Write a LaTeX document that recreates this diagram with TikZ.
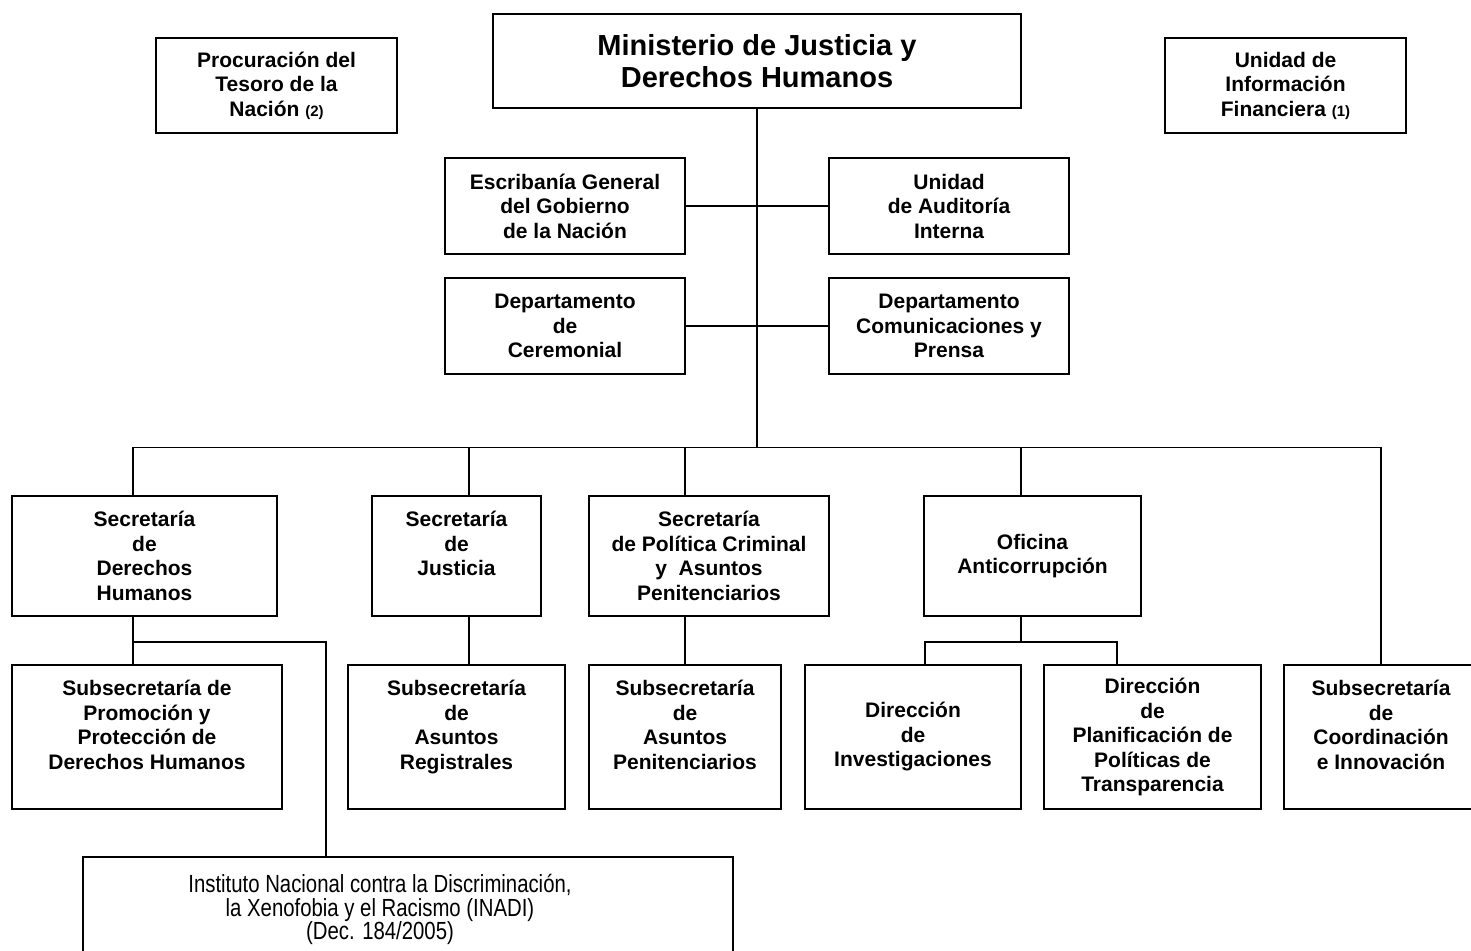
\documentclass[tikz,border=0pt]{standalone}
\usepackage{fontspec}
\setmainfont{Liberation Sans}
\newfontfamily\narrowfont[FakeStretch=0.82]{Liberation Sans}
\usetikzlibrary{positioning}

\tikzset{
  caja/.style={draw, line width=1pt, inner sep=0pt, align=center,
    font=\fontsize{10.5}{12.25}\selectfont\bfseries},
  linea/.style={line width=0.7pt}
}
\newcommand\nota[1]{{\fontsize{7.5}{9}\selectfont #1}}

\begin{document}
\begin{tikzpicture}[x=0.5pt,y=-0.5pt]
\useasboundingbox (0,0) rectangle (1471,950);

%Ministerio y organismos de arriba
\node[caja, minimum width=264pt, minimum height=47pt, font=\fontsize{14.5}{16}\selectfont\bfseries] (min) at (757,61) {Ministerio de Justicia y\\Derechos Humanos};
\node[caja, minimum width=120.5pt, minimum height=47.5pt] (ptn) at (276.5,85.5) {Procuración del\\Tesoro de la\\Nación \nota{(2)}};
\node[caja, minimum width=120.5pt, minimum height=47.5pt] (uif) at (1285.5,85.5) {Unidad de\\Información\\Financiera \nota{(1)}};

%Staff a los lados de la linea central
\node[caja, minimum width=120pt, minimum height=48pt] (esc) at (565,206) {Escribanía General\\del Gobierno\\de la Nación};
\node[caja, minimum width=120pt, minimum height=48pt] (uai) at (949,206) {Unidad\\de Auditoría\\Interna};
\node[caja, minimum width=120pt, minimum height=48pt] (cer) at (565,326) {Departamento\\de\\Ceremonial};
\node[caja, minimum width=120pt, minimum height=48pt] (com) at (949,326) {Departamento\\Comunicaciones y\\Prensa};

%Secretarias
\node[caja, minimum width=132.5pt, minimum height=60pt] (sdh) at (144.5,556) {Secretaría\\de\\Derechos\\Humanos};
\node[caja, minimum width=84.5pt, minimum height=60pt] (sj) at (456.5,556) {Secretaría\\de\\Justicia\\ \mbox{}};
\node[caja, minimum width=120pt, minimum height=60pt] (spc) at (709,556) {Secretaría\\de Política Criminal\\y\ \ Asuntos\\Penitenciarios};
\node[caja, minimum width=108.5pt, minimum height=60pt] (oa) at (1032.5,556) {Oficina\\Anticorrupción};

%Subsecretarias y direcciones
\node[caja, minimum width=135pt, minimum height=72pt] (ssdh) at (147,737) {Subsecretaría de\\Promoción y\\Protección de\\Derechos Humanos\\ \mbox{}};
\node[caja, minimum width=108.5pt, minimum height=72pt] (ssar) at (456.5,737) {Subsecretaría\\de\\Asuntos\\Registrales\\ \mbox{}};
\node[caja, minimum width=96pt, minimum height=72pt] (ssap) at (685,737) {Subsecretaría\\de\\Asuntos\\Penitenciarios\\ \mbox{}};
\node[caja, minimum width=108pt, minimum height=72pt] (dinv) at (913,737) {Dirección\\de\\Investigaciones};
\node[caja, minimum width=108.5pt, minimum height=72pt] (dpt) at (1152.5,737) {Dirección\\de\\Planificación de\\Políticas de\\Transparencia};
\node[caja, minimum width=97pt, minimum height=72pt] (sci) at (1381,737) {Subsecretaría\\de\\Coordinación\\e Innovación\\ \mbox{}};

%INADI (texto un poco a la izquierda del centro)
\node[caja, minimum width=325pt, minimum height=52.5pt] (inadi) at (408,909.5) {};
\node[align=center, inner sep=0pt, font=\fontsize{12.4}{11.8}\selectfont\narrowfont] (inaditxt) at ([xshift=-14pt]inadi.center) {Instituto Nacional contra la Discriminación,\\la Xenofobia y el Racismo (INADI)\\(Dec. 184/2005)};

%Lineas
\coordinate (bus) at (757,447.5);
\draw[linea] (min.south) -- (bus);
\draw[linea] (esc.east) -- (uai.west);
\draw[linea] (cer.east) -- (com.west);
\draw[linea] ([xshift=-5.75pt]sdh.north) |- (sci.north |- bus) -- (sci.north);
\draw[linea] ([xshift=6.25pt]sj.north) -- ([xshift=6.25pt]sj.north |- bus);
\draw[linea] ([xshift=-12pt]spc.north) -- ([xshift=-12pt]spc.north |- bus);
\draw[linea] ([xshift=-5.75pt]oa.north) -- ([xshift=-5.75pt]oa.north |- bus);

\draw[linea] ([xshift=-5.75pt]sdh.south) -- ([xshift=-7pt]ssdh.north);
\draw[linea] ([xshift=-5.75pt,yshift=-12.5pt]sdh.south) -| ([xshift=-41pt]inadi.north);
\draw[linea] ([xshift=6.25pt]sj.south) -- ([xshift=6.25pt]ssar.north);
\draw[linea] (ssap.north) -- (ssap.north |- spc.south);

\draw[linea] ([xshift=-5.75pt]oa.south) -- ++(0,-12.5pt) coordinate (oab);
\draw[linea] ([xshift=6pt]dinv.north) |- (oab) -| ([xshift=-17.75pt]dpt.north);

\end{tikzpicture}
\end{document}
